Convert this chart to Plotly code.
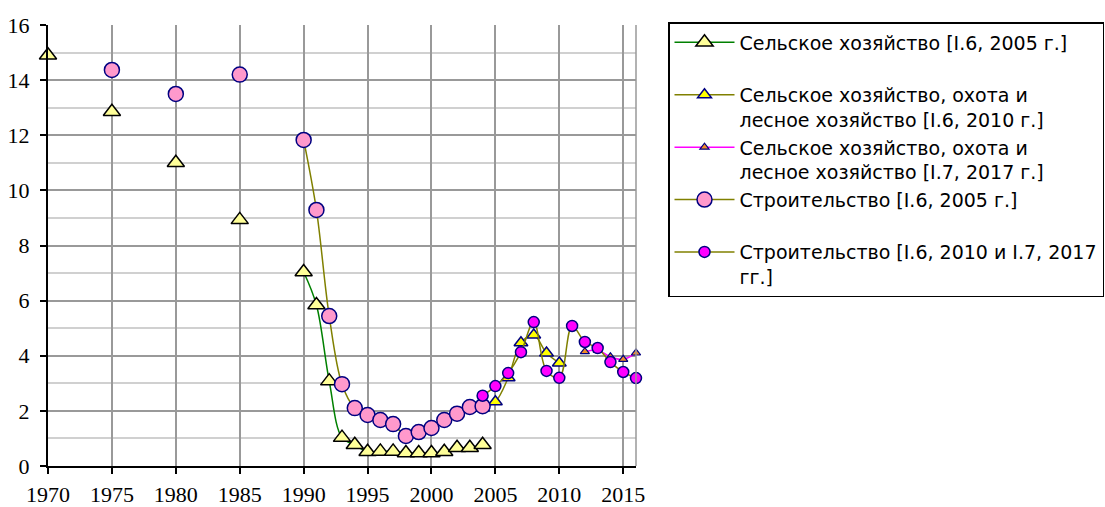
import plotly.graph_objects as go

# ---- data ----
years_s1 = [1970, 1975, 1980, 1985, 1990, 1991, 1992, 1993, 1994, 1995, 1996, 1997,
            1998, 1999, 2000, 2001, 2002, 2003, 2004]
agri_2005 = [14.9, 12.85, 11.0, 8.93, 7.04, 5.84, 3.08, 1.03, 0.77, 0.52, 0.53, 0.53,
             0.47, 0.47, 0.47, 0.52, 0.66, 0.66, 0.77]

years_s2 = [2004, 2005, 2006, 2007, 2008, 2009, 2010]
agri_2010 = [2.1, 2.33, 3.2, 4.47, 4.75, 4.1, 3.74]

years_s3 = [2012, 2013, 2014, 2015, 2016]
agri_2017 = [4.15, 4.2, 3.96, 3.87, 4.1]

years_s4 = [1975, 1980, 1985, 1990, 1991, 1992, 1993, 1994, 1995, 1996, 1997, 1998,
            1999, 2000, 2001, 2002, 2003, 2004]
constr_2005 = [14.37, 13.5, 14.2, 11.83, 9.29, 5.44, 2.97, 2.1, 1.85, 1.67, 1.52, 1.09,
               1.23, 1.38, 1.67, 1.9, 2.14, 2.17]

years_s5 = [2004, 2005, 2006, 2007, 2008, 2009, 2010, 2011, 2012, 2013, 2014, 2015, 2016]
constr_2010_2017 = [2.55, 2.9, 3.37, 4.13, 5.22, 3.45, 3.2, 5.08, 4.5, 4.28, 3.77, 3.41, 3.19]

names = [
    "Сельское хозяйство [I.6, 2005 г.]<br> ",
    "Сельское хозяйство, охота и<br>лесное хозяйство [I.6, 2010 г.]",
    "Сельское хозяйство, охота и<br>лесное хозяйство [I.7, 2017 г.]",
    "Строительство [I.6, 2005 г.]<br> ",
    "Строительство [I.6, 2010 и I.7, 2017<br>гг.]",
]


def with_gaps(xs, ys, connect_from):
    """Insert None between points before `connect_from` so they stay unconnected."""
    ox, oy = [], []
    for i, (x, y) in enumerate(zip(xs, ys)):
        if i > 0 and x <= connect_from:
            ox.append(None)
            oy.append(None)
        ox.append(x)
        oy.append(y)
    return ox, oy


fig = go.Figure()

x1, y1 = with_gaps(years_s1, agri_2005, 1990)
fig.add_trace(go.Scatter(
    x=x1, y=y1, name=names[0], mode="lines+markers",
    line=dict(color="#008000", width=1.5, shape="spline", smoothing=1),
    marker=dict(symbol="triangle-up", size=15, color="#FFFF99",
                line=dict(color="#000000", width=1.5)),
    connectgaps=False, cliponaxis=False))

fig.add_trace(go.Scatter(
    x=years_s2, y=agri_2010, name=names[1], mode="lines+markers",
    line=dict(color="#808000", width=1.5, shape="spline", smoothing=1),
    marker=dict(symbol="triangle-up", size=12, color="#FFFF00",
                line=dict(color="#000080", width=1.5)),
    cliponaxis=False))

fig.add_trace(go.Scatter(
    x=years_s3, y=agri_2017, name=names[2], mode="lines+markers",
    line=dict(color="#FF00FF", width=1.5, shape="spline", smoothing=1),
    marker=dict(symbol="triangle-up", size=8, color="#F28C28",
                line=dict(color="#000080", width=1.2)),
    cliponaxis=False))

x4, y4 = with_gaps(years_s4, constr_2005, 1990)
fig.add_trace(go.Scatter(
    x=x4, y=y4, name=names[3], mode="lines+markers",
    line=dict(color="#808000", width=1.5, shape="spline", smoothing=1),
    marker=dict(symbol="circle", size=15, color="#FF99CC",
                line=dict(color="#000080", width=1.5)),
    connectgaps=False, cliponaxis=False))

fig.add_trace(go.Scatter(
    x=years_s5, y=constr_2010_2017, name=names[4], mode="lines+markers",
    line=dict(color="#808000", width=1.5, shape="spline", smoothing=1),
    marker=dict(symbol="circle", size=11, color="#FF00FF",
                line=dict(color="#000080", width=1.5)),
    cliponaxis=False))

fig.add_shape(type="line", xref="paper", yref="paper", x0=1, x1=1, y0=0, y1=1,
              line=dict(color="#999999", width=1.5))

tickfont = dict(family="Liberation Serif", size=22, color="black")

fig.update_layout(
    width=1105, height=507,
    margin=dict(l=48, r=469, t=25, b=41, autoexpand=False),
    paper_bgcolor="white", plot_bgcolor="white",
    font=dict(family="Liberation Serif", size=22, color="black"),
    showlegend=True,
    legend=dict(
        x=(668 - 48) / (1105 - 48 - 469), xanchor="left",
        y=1 + (25 - 22) / (507 - 25 - 41), yanchor="top",
        font=dict(family="DejaVu Sans", size=19, color="black"),
        bordercolor="black", borderwidth=1.5, bgcolor="white",
        valign="top", itemwidth=60, tracegroupgap=0, maxheight=480,
    ),
    xaxis=dict(
        range=[1970, 2016], tick0=1970, dtick=5, tickfont=tickfont,
        showgrid=True, gridcolor="#999999", gridwidth=1.5,
        showline=True, linecolor="black", linewidth=2,
        ticks="outside", ticklen=6, tickcolor="black", tickwidth=1.5,
        zeroline=False, automargin=False, ticklabelstandoff=2,
    ),
    yaxis=dict(
        range=[0, 16], tick0=0, dtick=2, tickfont=tickfont,
        showgrid=True, gridcolor="#999999", gridwidth=1.5,
        showline=True, linecolor="black", linewidth=2,
        ticks="outside", ticklen=6, tickcolor="black", tickwidth=1.5,
        zeroline=False, automargin=False, ticklabelstandoff=6,
        minor=dict(dtick=1, showgrid=True, gridcolor="#d0d0d0", gridwidth=1.5),
    ),
)

fig.write_html("out.html", config={"displayModeBar": False},
               post_script="document.body.style.margin='0';")
